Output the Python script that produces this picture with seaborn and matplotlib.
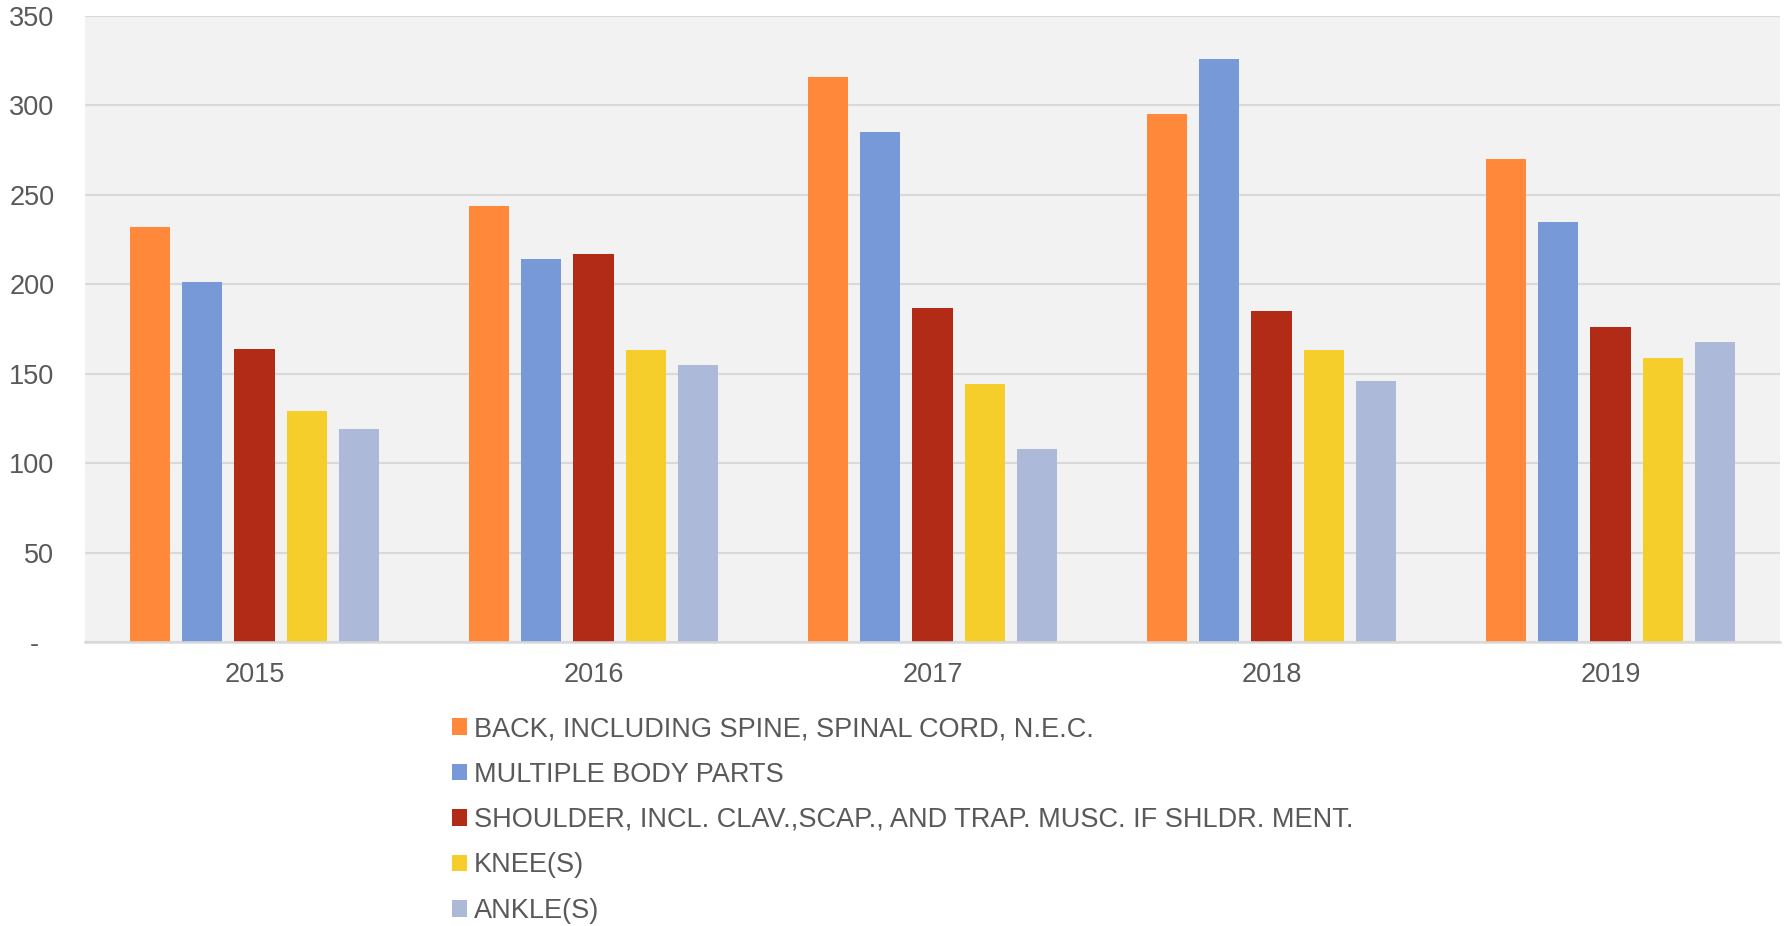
import matplotlib
matplotlib.use("Agg")
import matplotlib.pyplot as plt
import seaborn as sns
import pandas as pd

years = ["2015", "2016", "2017", "2018", "2019"]
series_names = [
    "BACK, INCLUDING SPINE, SPINAL CORD, N.E.C.",
    "MULTIPLE BODY PARTS",
    "SHOULDER, INCL. CLAV.,SCAP., AND TRAP. MUSC. IF SHLDR. MENT.",
    "KNEE(S)",
    "ANKLE(S)",
]
back = [232, 244, 316, 295, 270]
multiple = [201, 214, 285, 326, 235]
shoulder = [164, 217, 187, 185, 176]
knee = [129, 163, 144, 163, 159]
ankle = [119, 155, 108, 146, 168]
colors = ["#FF883A", "#7799D8", "#B22B17", "#F5CE2C", "#ADB9D8"]
yticks = [0, 50, 100, 150, 200, 250, 300, 350]
ytick_labels = ["-  ", "50", "100", "150", "200", "250", "300", "350"]

rows = []
for name, vals in zip(series_names, [back, multiple, shoulder, knee, ankle]):
    for y, v in zip(years, vals):
        rows.append({"year": y, "part": name, "value": v})
df = pd.DataFrame(rows)

sns.set_theme(style="white")
plt.rcParams["font.family"] = ["Liberation Sans", "DejaVu Sans"]
text_color = "#595959"
fs = 19.5

fig = plt.figure(figsize=(17.85, 9.26), dpi=100)
ax = fig.add_axes([85 / 1785, 1 - 642 / 926, (1780 - 85) / 1785, (642 - 16) / 926])
ax.set_facecolor("#F2F2F2")

sns.barplot(data=df, x="year", y="value", hue="part", hue_order=series_names,
            order=years, palette=colors, width=0.77, gap=0.23, ax=ax,
            saturation=1, linewidth=0, legend=False)

ax.set_ylim(0, 350)
ax.set_xlim(-0.5, 4.5)
ax.set_yticks(yticks)
ax.set_yticklabels(ytick_labels)
ax.yaxis.grid(True, color="#D9D9D9", linewidth=1.5)
ax.set_axisbelow(True)
for s in ["left", "right", "top"]:
    ax.spines[s].set_visible(False)
ax.spines["bottom"].set_color("#D9D9D9")
ax.spines["bottom"].set_linewidth(1.8)
ax.tick_params(axis="y", length=0, pad=22, labelsize=fs, labelcolor=text_color)
ax.tick_params(axis="x", length=0, pad=14.5, labelsize=fs, labelcolor=text_color)
ax.set_xlabel("")
ax.set_ylabel("")

handles = [plt.Rectangle((0, 0), 1, 1, facecolor=c, edgecolor="none") for c in colors]
fig.legend(handles, series_names, loc="upper left",
           bbox_to_anchor=(452 / 1785, 1 - 716 / 926), frameon=False,
           fontsize=fs, labelcolor=text_color, handlelength=0.55, handleheight=0.55,
           handletextpad=0.25, labelspacing=0.72, borderpad=0, borderaxespad=0)

fig.savefig("out.png", dpi=100, facecolor="white")
